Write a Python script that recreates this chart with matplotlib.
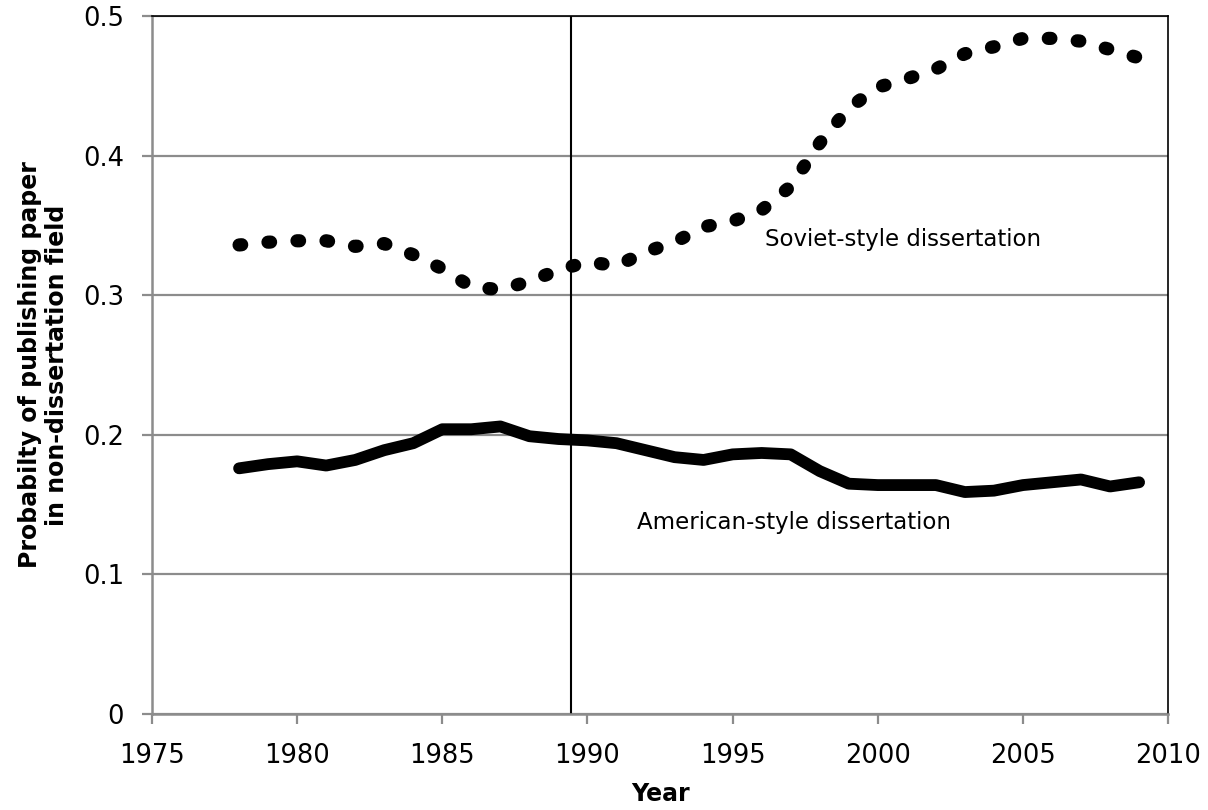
import matplotlib
matplotlib.use("Agg")
import matplotlib.pyplot as plt
from matplotlib.ticker import FuncFormatter

plt.rcParams['font.family'] = ['DejaVu Sans']

years = list(range(1978, 2010))

# Soviet-style dissertation (dotted)
soviet = [0.336, 0.338, 0.339, 0.339, 0.335, 0.337, 0.329, 0.319, 0.306, 0.304,
          0.310, 0.318, 0.324, 0.321, 0.331, 0.338, 0.349, 0.353, 0.361, 0.378,
          0.409, 0.434, 0.449, 0.455, 0.462, 0.473, 0.478, 0.484, 0.484, 0.482,
          0.476, 0.470]

# American-style dissertation (solid)
american = [0.176, 0.179, 0.181, 0.178, 0.182, 0.189, 0.194, 0.204, 0.204, 0.206,
            0.199, 0.197, 0.196, 0.194, 0.189, 0.184, 0.182, 0.186, 0.187, 0.186,
            0.174, 0.165, 0.164, 0.164, 0.164, 0.159, 0.160, 0.164, 0.166, 0.168,
            0.163, 0.166]

break_year = 1989.45

fig = plt.figure(figsize=(12.08, 8.10), dpi=100)
ax = fig.add_axes([0.1258, 0.1185, 0.8412, 0.8617])

ax.set_xlim(1975, 2010)
ax.set_ylim(0, 0.5)
ax.set_xticks(range(1975, 2011, 5))
ax.set_yticks([0, 0.1, 0.2, 0.3, 0.4, 0.5])
ax.yaxis.set_major_formatter(FuncFormatter(lambda v, p: "0" if v == 0 else f"{v:.1f}"))

ax.grid(axis='y', color='#8c8c8c', linewidth=1.6)
ax.set_axisbelow(True)

for side in ['left', 'bottom']:
    ax.spines[side].set_color('#8c8c8c')
    ax.spines[side].set_linewidth(1.8)
for side in ['top', 'right']:
    ax.spines[side].set_color('black')
    ax.spines[side].set_linewidth(1.2)

ax.tick_params(axis='both', direction='out', length=7, width=1.6, color='#8c8c8c',
               labelsize=18.5)
ax.tick_params(axis='x', pad=14)
ax.tick_params(axis='y', pad=13)

ax.axvline(break_year, color='black', linewidth=1.5)

ax.plot(years, american, color='black', linewidth=8.5, solid_capstyle='round',
        solid_joinstyle='round')
ax.plot(years, soviet, color='black', linewidth=9.5, linestyle=(0, (0.2, 2.0)),
        dash_capstyle='round')

ax.text(1996.1, 0.340, "Soviet-style dissertation", fontsize=16.5, va='center', ha='left')
ax.text(1991.7, 0.137, "American-style dissertation", fontsize=16.5, va='center', ha='left')

ax.set_xlabel("Year", fontsize=17, fontweight='bold', labelpad=9)
ax.set_ylabel("Probabilty of publishing paper\nin non-dissertation field", fontsize=17,
              fontweight='bold', labelpad=10, linespacing=1.15)

fig.savefig("out.png", dpi=100)
